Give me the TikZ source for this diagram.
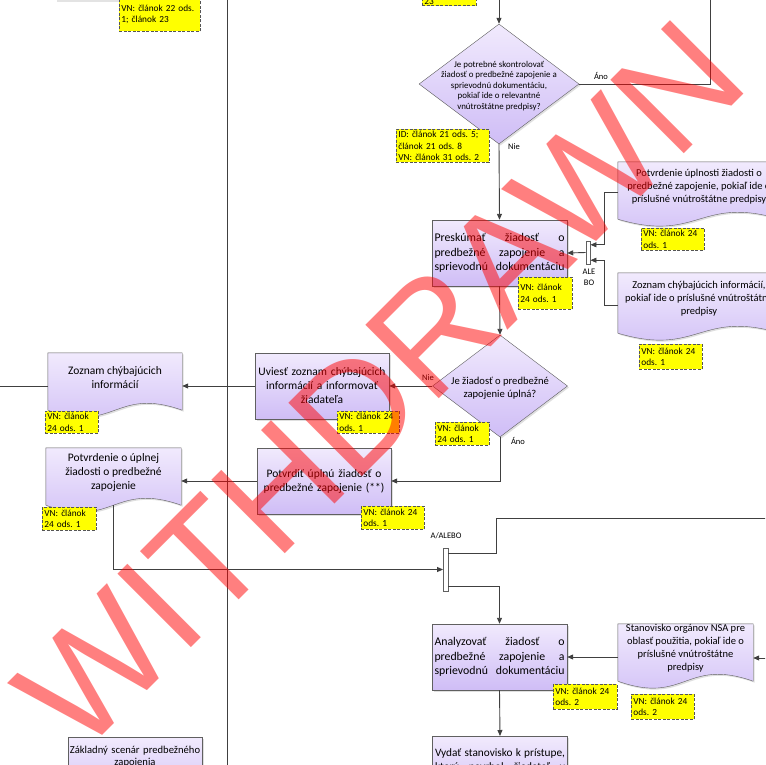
\documentclass[tikz,border=0pt]{standalone}
\usepackage{fontspec}
\setmainfont{Carlito}
\newfontfamily\wmfont{Liberation Sans}
\usetikzlibrary{shapes.geometric, arrows.meta, calc, backgrounds, shadows}
\definecolor{boxtop}{RGB}{241, 234, 253}
\definecolor{boxbot}{RGB}{207, 189, 246}
\definecolor{boxline}{RGB}{96, 96, 96}
\definecolor{flowline}{RGB}{64, 64, 64}
\definecolor{noteyellow}{RGB}{255, 255, 0}
\definecolor{noteline}{RGB}{85, 85, 85}
\definecolor{stampred}{RGB}{255, 0, 0}
\frenchspacing
\newcommand{\boxfont}{\fontsize{11.5}{14}\selectfont}
\newcommand{\jfont}{\fontsize{11.8}{14.5}\selectfont}
\newcommand{\docfont}{\fontsize{10.5}{13}\selectfont}
\newcommand{\notefont}{\fontsize{9.3}{11.5}\selectfont}
\newcommand{\lblfont}{\fontsize{8.5}{10.5}\selectfont}
\newcommand{\jl}[2][130pt]{{\spaceskip=0pt\xspaceskip=0pt\makebox[#1][s]{#2}}}
\tikzset{
  proc/.style={draw=boxline, top color=boxtop, bottom color=boxbot, font=\boxfont,
    text width=128pt, inner xsep=3pt, minimum height=66pt,
    drop shadow={shadow xshift=1.5pt, shadow yshift=-1.5pt, opacity=0.25}},
  jproc/.style={proc, font=\jfont, text width=130pt, inner xsep=2.5pt, align=justify},
  decision/.style={diamond, draw=boxline, top color=boxtop, bottom color=boxbot, inner sep=0pt,
    drop shadow={shadow xshift=1.5pt, shadow yshift=-1.5pt, opacity=0.25}},
  docnode/.style={inner sep=0pt, font=\boxfont, align=center},
  docfill/.style={draw=boxline, top color=boxtop, bottom color=boxbot,
    drop shadow={shadow xshift=1.5pt, shadow yshift=-1.5pt, opacity=0.25}},
  note/.style={draw=noteline, dash pattern=on 3pt off 1.5pt, line width=0.8pt, fill=noteyellow,
    font=\notefont, align=left, anchor=north west, inner xsep=2pt, inner ysep=1pt, text width=#1},
  mergebar/.style={draw=boxline, fill=white, inner sep=0pt, minimum width=4.5pt},
  lbl/.style={font=\lblfont, inner sep=0pt},
  link/.style={draw=flowline, line width=0.9pt},
  flow/.style={link, -{Triangle[length=6pt, width=5pt]}}
}

\begin{document}
\begin{tikzpicture}[x=1pt, y=-1pt]
\useasboundingbox (0,0) rectangle (765,765);
\clip (0,0) rectangle (765,765);

% Lane separator
\draw[flowline, line width=1pt] (227,-5) -- (227,770);

% Leftovers of the row above
\fill[gray!22] (57,-10) rectangle (200,2);
\node[note=77pt, minimum height=34pt] (n22) at (119,-3) {VN: článok 22 ods.\\1; článok 23};

% Right lane - completeness check
\node[decision, minimum width=160pt, minimum height=120pt] (chk) at (499,84) {};
\node[font=\fontsize{8.9}{10.6}\selectfont, align=center] (chk-txt) at (499,86)
  {Je potrebné skontrolovať\\žiadosť o predbežné zapojenie a\\sprievodnú dokumentáciu,\\pokiaľ ide o relevantné\\vnútroštátne predpisy?};

\node[jproc] (presk) at (499.5,253)
  {\jl{Preskúmať žiadosť o}\\\jl{predbežné zapojenie a}\\\jl{sprievodnú dokumentáciu}};

% ALEBO merge
\node[mergebar, minimum height=23pt] (alebo) at (588,252.5) {};
\node[lbl, align=center] (alebo-txt) at (589,277.5) {ALE\\BO};

% Input documents on the right
\node[docnode, font=\docfont, minimum width=162pt, minimum height=49pt] (upl) at (699,186.5)
  {Potvrdenie úplnosti žiadosti o\\predbežné zapojenie, pokiaľ ide o\\príslušné vnútroštátne predpisy};
\node[docnode, font=\docfont, minimum width=162pt, minimum height=52pt] (chyb) at (699,299)
  {Zoznam chýbajúcich informácií,\\pokiaľ ide o príslušné vnútroštátne\\predpisy};

% Is it complete?
\node[decision, minimum width=135pt, minimum height=102pt] (kompl) at (500,386) {};
\node[font=\fontsize{10.6}{13.5}\selectfont, align=center] (kompl-txt) at (500,388)
  {Je žiadosť o predbežné\\zapojenie úplná?};

% Middle lane
\node[proc, align=center] (uviest) at (322,386)
  {Uviesť zoznam chýbajúcich\\informácií a informovať\\žiadateľa};
\node[proc, align=center] (potvrdit) at (324,481)
  {Potvrdiť úplnú žiadosť o\\predbežné zapojenie (**)};

% Left lane - outputs
\node[docnode, minimum width=134pt, minimum height=49pt] (zoznam) at (115,377.5)
  {Zoznam chýbajúcich\\informácií};
\node[docnode, minimum width=135pt, minimum height=49pt] (potvrdenie) at (113.5,472.5)
  {Potvrdenie o úplnej\\žiadosti o predbežné\\zapojenie};
\node[proc, align=center, font=\fontsize{10.6}{12.5}\selectfont, text width=132pt, inner xsep=1pt,
  anchor=north, minimum height=0pt, inner ysep=8.5pt, text depth=41pt] (zaklad) at (135,737)
  {Základný scenár predbežného\\zapojenia};

% A/ALEBO merge
\node[mergebar, minimum height=43pt] (aalebo) at (445.5,569.5) {};
\node[lbl] (aalebo-txt) at (446,536) {A/ALEBO};

% Analysis
\node[jproc] (analyz) at (499.5,657)
  {\jl{Analyzovať žiadosť o}\\\jl{predbežné zapojenie a}\\\jl{sprievodnú dokumentáciu}};
\node[docnode, font=\docfont, minimum width=135pt, minimum height=49pt] (stanov) at (685.5,648.5)
  {Stanovisko orgánov NSA pre\\oblasť použitia, pokiaľ ide o\\príslušné vnútroštátne\\predpisy};
\node[jproc, font=\fontsize{11.3}{14}\selectfont, anchor=north, minimum height=0pt, inner ysep=12pt,
  text depth=34pt] (vydat) at (500,736)
  {\jl{Vydať stanovisko k prístupe,}\\\jl{ktorý navrhol žiadateľ v}};

% Document outlines
\begin{scope}[on background layer]
\fill[white] (0,0) rectangle (765,765);
\foreach \d in {upl,chyb,zoznam,potvrdenie,stanov}
  \path[docfill] (\d.north west) -- (\d.north east) -- ($(\d.south east)+(0,8)$)
    .. controls ($(\d.south)+(0,-16)$) and ($(\d.south)+(0,32)$) .. ($(\d.south west)+(0,8)$) -- cycle;
\end{scope}

% Legal references
\node[note=50pt, minimum height=0pt, anchor=south west] (n23) at (422,6) {23};
\node[note=89pt, minimum height=33pt] (nchk) at (396,129) {ID: článok 21 ods. 5;\\článok 21 ods. 8\\VN: článok 31 ods. 2};
\node[note=50pt, minimum height=32pt] (npresk) at (518,277) {VN: článok\\24 ods. 1};
\node[note=59pt, minimum height=22pt] (nupl) at (641,228) {VN: článok 24\\ods. 1};
\node[note=59pt, minimum height=25pt] (nchyb) at (639,344) {VN: článok 24\\ods. 1};
\node[note=50pt, minimum height=23pt] (nkompl) at (435,422) {VN: článok\\24 ods. 1};
\node[note=58pt, minimum height=22pt] (nuviest) at (337,411) {VN: článok 24\\ods. 1};
\node[note=49pt, minimum height=22pt] (nzoznam) at (45,411) {VN: článok\\24 ods. 1};
\node[note=59pt, minimum height=23pt] (npotvrdit) at (361,506) {VN: článok 24\\ods. 1};
\node[note=50pt, minimum height=23pt] (npotvrdenie) at (42,507) {VN: článok\\24 ods. 1};
\node[note=60pt, minimum height=25pt] (nanalyz) at (553,684) {VN: článok 24\\ods. 2};
\node[note=59pt, minimum height=25pt] (nstanov) at (631,694) {VN: článok 24\\ods. 2};

% Branch labels
\node[lbl] (ano1) at (601,76) {Áno};
\node[lbl] (nie1) at (514,147) {Nie};
\node[lbl] (nie2) at (428,378) {Nie};
\node[lbl] (ano2) at (518,441) {Áno};

% Connectors
\coordinate (top1) at (499,-5);
\coordinate (up1) at (710,-5);
\coordinate (out1) at (-5,386);
\coordinate (out2) at (770,518);
\coordinate (in2) at (770,658);
\draw[flow] (top1) -- (chk.north);
\draw[link] (chk.east) -| (up1);
\draw[flow] (chk.south) -- (presk.north);
\draw[flow] ($(upl.west)+(0,6)$) -- ++(-13,0) |- ($(alebo.north east)!0.17!(alebo.south east)$);
\draw[flow] ($(chyb.west)+(0,6)$) -- ++(-13,0) |- ($(alebo.north east)!0.83!(alebo.south east)$);
\draw[flow] (alebo.west) -- (presk.east);
\draw[flow] (presk.south) -- (kompl.north);
\draw[flow] (kompl.west) -- (uviest.east);
\draw[flow] (uviest.west) -- (uviest.west -| zoznam.east);
\draw[link] (zoznam.west |- out1) -- (out1);
\draw[flow] (kompl.south) |- (potvrdit.east);
\draw[flow] (potvrdit.west) -- (potvrdit.west -| potvrdenie.east);
\draw[flow] ($(potvrdenie.south)+(0,8)$) |- (aalebo.west);
\draw[link] ($(aalebo.north east)!0.12!(aalebo.south east)$) -- ++(48,0) |- (out2);
\draw[flow] ($(aalebo.north east)!0.88!(aalebo.south east)$) -| (analyz.north);
\draw[flow] (analyz.east -| stanov.west) -- (analyz.east);
\draw[flow] (in2) -- (in2 -| stanov.east);
\draw[flow] (analyz.south) -- (vydat.north);

% Watermark
\node[font=\wmfont\fontsize{151}{151}\selectfont, text=stampred, text opacity=0.5, rotate=45, inner sep=0pt] (stamp) at (380,385) {WITHDRAWN};
\end{tikzpicture}
\end{document}
